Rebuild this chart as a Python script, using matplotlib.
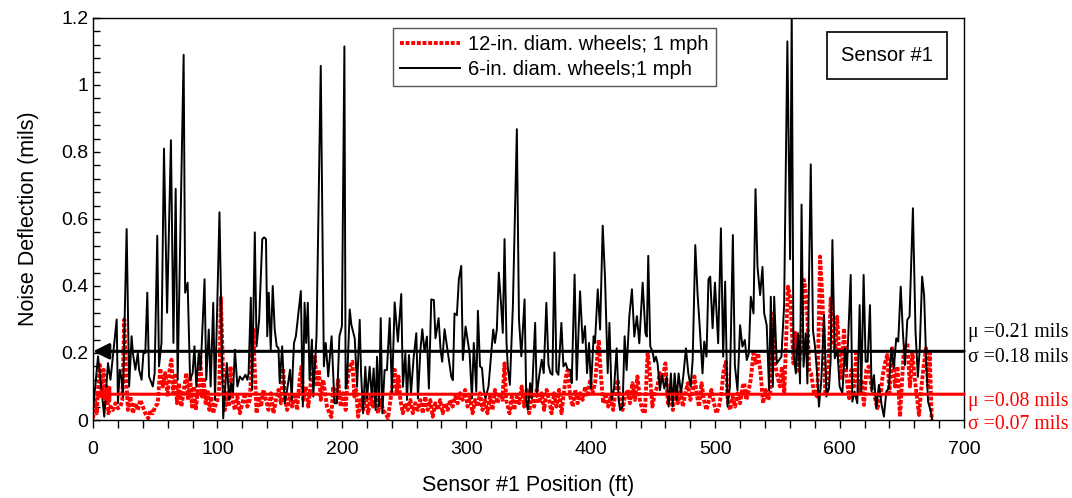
import numpy as np
import matplotlib
matplotlib.use("Agg")
import matplotlib.pyplot as plt
from matplotlib.ticker import MultipleLocator, FuncFormatter

plt.rcParams['font.family'] = ['Liberation Sans', 'DejaVu Sans']

# 6-in. wheels (black), position ft / noise mils
black_x = [0, 4, 9, 12, 14, 19, 20, 21.5, 23, 24, 27, 29, 31, 32, 34, 36, 37, 39, 40.5, 42,
           43.6, 45, 48, 49.5, 51.6, 53, 55, 57, 59.5, 62.6, 64.6, 66.4, 68, 72.8, 74, 76, 78, 80,
           81.5, 83, 85, 86.5, 89.6, 91, 93, 94.5, 96.6, 98, 101.6, 104.6, 107.5, 109.4, 111, 112.5,
           114, 116, 118, 120, 122.5, 124, 125, 126.8, 127.8, 130, 131.4, 133.5, 136, 137.5, 139,
           140, 141.2, 142.8, 144.4, 146, 147.6, 149, 150, 152, 154, 156, 158.3, 159.7, 160.5, 161.5,
           163, 167, 168.6, 170, 171.3, 172.6, 174, 175.9, 177, 179.6, 183, 185.5, 187, 189, 191.7,
           194, 196, 198, 200, 202, 203, 204.1, 206.3, 207.6, 210.3, 212.2, 214.3, 215.4, 217, 218.8,
           220.2, 222.3, 224, 225.5, 227.1, 228.2, 229.8, 231.2, 232.5, 234.3, 236.2, 238.4, 240.2,
           242.4, 245, 247.7, 249, 251, 252.3, 253.9, 255.5, 257.7, 259.8, 261.1, 263, 264.6, 266.4,
           268.3, 269.9, 271.8, 273.9, 275.2, 277.7, 279.3, 280.6, 282.5, 285.2, 287.9, 289.2, 290.5,
           292.4, 294, 295.9, 297.2, 299.4, 302.6, 304.5, 306, 308, 309.3, 311, 312.6, 314, 315.4,
           317.8, 320, 321.6, 323, 324.5, 326.1, 328, 329.3, 330.7, 332.3, 333.4, 335, 337.4, 340.6,
           342.3, 344.2, 346.8, 348.2, 349.5, 351.3, 352.6, 355.3, 356.6, 358.7, 360.6, 362.2, 364.3,
           366, 367.6, 369.2, 370.8, 372.4, 374, 376.4, 378, 379.8, 381.5, 383.6, 384.7, 387, 388.7,
           391.4, 393.5, 395.4, 397, 398.6, 400.2, 402.3, 403.4, 405.6, 407.5, 409.6, 411.5, 413.6,
           415, 416.8, 418.7, 420.8, 422.4, 423.5, 425.6, 427.2, 428.8, 431, 433.1, 435, 437.1, 439,
           441.7, 443.9, 445, 446.2, 447.8, 449.7, 451, 452.4, 453.7, 455.6, 457.2, 459.1, 461, 462.6,
           464.4, 465.8, 467.4, 469, 470.6, 472.5, 474.3, 476.5, 478.4, 480.3, 481.9, 484, 485.8,
           487.7, 489.8, 491.2, 493, 494.6, 496, 497.9, 499.8, 502.4, 504.6, 506.4, 508, 509.9, 511.8,
           514.2, 515.8, 517.9, 520, 521.9, 523.8, 525.4, 527, 528.6, 530.8, 532.4, 534, 536.1, 538,
           539.4, 541.4, 543.3, 544.7, 546.3, 547.4, 549.5, 551.4, 553.2, 555.4, 558, 560.2, 561.5,
           562.9, 564.8, 566.6, 568.2, 569.4, 571, 572.8, 574.1, 576.8, 578.6, 580.2, 582.1, 583.4,
           585.3, 587.5, 589.4, 591.5, 592.8, 594.2, 596.1, 598.2, 600, 602.2, 604.3, 605.9, 608.9,
           610.2, 612, 614.2, 616.1, 617.4, 619.3, 620.9, 622.5, 624.4, 625.7, 627.6, 629.4, 631.6,
           633.8, 635.6, 637.5, 639.6, 641.5, 643.6, 645.5, 647.1, 649.1, 650.9, 652.5, 654.4, 656.2,
           658.9, 661, 662.9, 664.4, 666.3, 667.9, 669.5, 671.1, 673.3, 674.4]
black_y = [0.03, 0.19, 0.01, 0.17, 0.12, 0.30, 0.05, 0.15, 0.12, 0.07, 0.57, 0.10, 0.25, 0.20, 0.15,
           0.20, 0.15, 0.12, 0.20, 0.20, 0.38, 0.13, 0.10, 0.14, 0.55, 0.16, 0.23, 0.81, 0.32, 0.835,
           0.23, 0.69, 0.12, 1.09, 0.38, 0.41, 0.12, 0.14, 0.22, 0.10, 0.20, 0.15, 0.42, 0.12, 0.27,
           0.10, 0.35, 0.06, 0.62, 0.005, 0.17, 0.06, 0.11, 0.08, 0.21, 0.10, 0.13, 0.12, 0.135, 0.12,
           0.14, 0.365, 0.09, 0.56, 0.22, 0.30, 0.54, 0.545, 0.54, 0.25, 0.38, 0.21, 0.40, 0.27, 0.22,
           0.215, 0.11, 0.22, 0.05, 0.09, 0.15, 0.06, 0.15, 0.23, 0.25, 0.385, 0.04, 0.35, 0.23, 0.35,
           0.12, 0.24, 0.07, 0.25, 1.057, 0.16, 0.23, 0.13, 0.25, 0.05, 0.05, 0.25, 0.28, 1.115, 0.094,
           0.109, 0.330, 0.284, 0.244, 0.099, 0.299, 0.139, 0.020, 0.159, 0.064, 0.159, 0.069, 0.154,
           0.030, 0.189, 0.040, 0.304, 0.020, 0.149, 0.149, 0.304, 0.079, 0.351, 0.234, 0.376, 0.099,
           0.199, 0.060, 0.194, 0.079, 0.189, 0.259, 0.064, 0.204, 0.271, 0.204, 0.249, 0.094, 0.360,
           0.358, 0.244, 0.304, 0.209, 0.174, 0.271, 0.199, 0.129, 0.119, 0.318, 0.313, 0.420, 0.460,
           0.179, 0.279, 0.20, 0.065, 0.23, 0.085, 0.326, 0.16, 0.155, 0.09, 0.065, 0.10, 0.20, 0.27,
           0.23, 0.27, 0.44, 0.34, 0.26, 0.54, 0.23, 0.154, 0.105, 0.34, 0.868, 0.30, 0.19, 0.36, 0.055,
           0.03, 0.11, 0.065, 0.29, 0.075, 0.135, 0.18, 0.14, 0.35, 0.165, 0.14, 0.135, 0.50, 0.145,
           0.135, 0.29, 0.16, 0.17, 0.15, 0.15, 0.11, 0.434, 0.12, 0.384, 0.23, 0.28, 0.14, 0.23, 0.095,
           0.25, 0.23, 0.39, 0.27, 0.58, 0.42, 0.14, 0.29, 0.06, 0.094, 0.214, 0.06, 0.03, 0.04, 0.25,
           0.149, 0.31, 0.39, 0.249, 0.31, 0.229, 0.41, 0.26, 0.249, 0.49, 0.22, 0.204, 0.174, 0.189,
           0.169, 0.089, 0.134, 0.094, 0.129, 0.04, 0.139, 0.04, 0.139, 0.06, 0.139, 0.079, 0.129,
           0.214, 0.139, 0.10, 0.179, 0.522, 0.378, 0.27, 0.139, 0.234, 0.189, 0.42, 0.428, 0.274,
           0.41, 0.229, 0.572, 0.189, 0.413, 0.040, 0.099, 0.552, 0.164, 0.089, 0.283, 0.219, 0.239,
           0.179, 0.199, 0.368, 0.318, 0.689, 0.457, 0.373, 0.457, 0.318, 0.283, 0.089, 0.368, 0.099,
           0.368, 0.169, 0.179, 0.189, 0.343, 1.13, 0.48, 1.22, 0.20, 0.139, 0.259, 0.109, 0.643,
           0.159, 0.259, 0.109, 0.763, 0.268, 0.219, 0.129, 0.040, 0.119, 0.313, 0.070, 0.099, 0.179,
           0.537, 0.184, 0.209, 0.10, 0.080, 0.214, 0.154, 0.433, 0.055, 0.085, 0.050, 0.343, 0.085,
           0.433, 0.174, 0.174, 0.343, 0.085, 0.134, 0.035, 0.105, 0.045, 0.010, 0.085, 0.095, 0.214,
           0.155, 0.244, 0.234, 0.398, 0.259, 0.164, 0.299, 0.309, 0.632, 0.264, 0.129, 0.214, 0.428,
           0.373, 0.184, 0.055, 0.025, 0.0]

# 12-in. wheels (red)
red_x = [0, 1.5, 3, 4.5, 5.6, 7, 8.5, 10, 11, 12.3, 14, 16, 18, 20, 22, 23.5, 25.1, 26.5, 28, 30,
         32, 34, 36, 38, 40, 42, 44.4, 46, 48, 50, 52, 54, 56, 58, 60, 61.5, 63, 64.5, 66, 67.5, 69,
         71, 73, 75, 76.5, 78, 79.5, 81, 82.5, 84, 86, 87.5, 89, 90.5, 92, 93.5, 95, 96.5, 98, 100,
         101.5, 102.7, 104.5, 106, 107.5, 109, 110.5, 112, 114, 116, 118, 120, 122, 124, 126, 128.7,
         130, 131.4, 133, 135, 137, 139, 141, 143, 145, 147, 149, 151, 152.8, 154.5, 156, 158, 160,
         162, 164, 166, 167.5, 169, 171, 173, 175, 176.5, 178.2, 180, 181.5, 183, 185, 186.5, 188,
         190, 191.5, 193, 195, 197, 199, 201, 203, 204.5, 206.3, 208.4, 210, 211.5, 213, 215, 217,
         219, 221, 223, 225, 227, 229, 231, 233, 235, 237, 239, 240.5, 242.4, 244, 245.5, 247, 249,
         251, 253, 255, 257, 259, 261, 263, 265, 267, 269, 271, 273, 275, 277, 279, 281, 283, 285,
         287, 289, 291, 293, 295, 297, 299, 301, 303, 305, 307, 309, 311, 313, 315, 317, 319, 321,
         323, 325, 327, 329, 330.7, 332, 334.7, 336.5, 338.5, 340.5, 342.5, 344.5, 346.5, 348.5,
         350.5, 352.5, 354.5, 356.5, 358.5, 360.5, 362.5, 364.5, 366.5, 368.5, 370.5, 372.5, 374.5,
         376.5, 378, 380, 381.5, 383.5, 385.5, 387.5, 389.5, 391.5, 393.5, 395.5, 397.5, 399.5,
         401.5, 403.5, 405, 406.4, 408, 410, 412, 414, 416, 418, 420, 421.6, 423.5, 425.5, 427.5,
         429.5, 431.5, 433.5, 435.5, 437.5, 439.5, 441.5, 443.5, 445.7, 447.5, 449.5, 451.5, 453.5,
         455.5, 457.5, 460, 462, 464, 466, 468, 470, 472, 474, 476, 478, 480, 482, 483.3, 485, 487,
         489, 491, 493, 495, 497, 499, 501, 503, 505, 506.5, 508.6, 510, 512, 514, 516, 518, 520,
         522, 523.3, 525, 527, 528.5, 530.8, 532.5, 534.5, 536.5, 538.5, 540.5, 542.5, 544.2, 546.1,
         548, 550, 552, 553.7, 555.5, 558.5, 560.5, 562.9, 564.5, 566.5, 568.5, 571.4, 573.6, 575.5,
         577, 579.4, 582.1, 584.3, 586.2, 588.5, 590.5, 592.8, 594.7, 596.5, 598, 599.5, 601.5,
         603.5, 605.5, 607.6, 609.5, 611.5, 613.5, 615.5, 617.5, 619.6, 621.5, 623.5, 625.5, 627.5,
         630.3, 632.5, 634.5, 636.5, 638.3, 640, 642.2, 644.5, 646.5, 648.5, 651.7, 654.4, 656.5,
         658.5, 660.5, 663.8, 665.5, 667.5, 669.5, 671, 672.4, 674]
red_y = [0.005, 0.06, 0.02, 0.12, 0.164, 0.08, 0.15, 0.05, 0.10, 0.02, 0.04, 0.03, 0.05, 0.035,
         0.04, 0.06, 0.30, 0.14, 0.03, 0.07, 0.02, 0.05, 0.03, 0.06, 0.04, 0.02, 0.005, 0.03, 0.02,
         0.04, 0.05, 0.154, 0.10, 0.14, 0.07, 0.15, 0.18, 0.08, 0.14, 0.05, 0.11, 0.04, 0.09, 0.14,
         0.06, 0.13, 0.04, 0.10, 0.03, 0.08, 0.204, 0.07, 0.12, 0.05, 0.09, 0.03, 0.07, 0.02, 0.04,
         0.06, 0.10, 0.365, 0.14, 0.03, 0.08, 0.04, 0.16, 0.06, 0.03, 0.07, 0.02, 0.05, 0.08, 0.04,
         0.06, 0.27, 0.15, 0.02, 0.07, 0.04, 0.09, 0.06, 0.03, 0.08, 0.02, 0.06, 0.09, 0.05, 0.154,
         0.06, 0.03, 0.07, 0.04, 0.08, 0.03, 0.12, 0.159, 0.06, 0.10, 0.04, 0.11, 0.14, 0.189, 0.10,
         0.15, 0.06, 0.12, 0.08, 0.04, 0.02, 0.009, 0.10, 0.05, 0.12, 0.04, 0.08, 0.03, 0.12, 0.159,
         0.174, 0.07, 0.09, 0.01, 0.06, 0.03, 0.08, 0.02, 0.07, 0.04, 0.09, 0.02, 0.06, 0.03, 0.02,
         0.005, 0.06, 0.10, 0.15, 0.08, 0.13, 0.06, 0.02, 0.05, 0.03, 0.06, 0.02, 0.05, 0.03, 0.06,
         0.02, 0.07, 0.03, 0.06, 0.01, 0.05, 0.03, 0.06, 0.02, 0.05, 0.03, 0.06, 0.04, 0.07, 0.05,
         0.08, 0.06, 0.09, 0.04, 0.07, 0.02, 0.06, 0.04, 0.08, 0.03, 0.06, 0.02, 0.07, 0.03, 0.09,
         0.05, 0.08, 0.06, 0.169, 0.06, 0.02, 0.07, 0.03, 0.07, 0.05, 0.10, 0.04, 0.09, 0.02, 0.08,
         0.04, 0.09, 0.05, 0.08, 0.03, 0.09, 0.06, 0.02, 0.08, 0.04, 0.09, 0.02, 0.07, 0.13, 0.149,
         0.07, 0.04, 0.09, 0.05, 0.08, 0.06, 0.10, 0.07, 0.12, 0.08, 0.11, 0.18, 0.239, 0.14, 0.05,
         0.08, 0.04, 0.07, 0.03, 0.09, 0.12, 0.06, 0.03, 0.07, 0.09, 0.05, 0.11, 0.06, 0.13, 0.06,
         0.03, 0.02, 0.199, 0.14, 0.04, 0.08, 0.10, 0.14, 0.12, 0.169, 0.05, 0.08, 0.03, 0.10, 0.05,
         0.09, 0.04, 0.08, 0.11, 0.06, 0.09, 0.13, 0.08, 0.04, 0.11, 0.06, 0.03, 0.06, 0.09, 0.05,
         0.02, 0.04, 0.08, 0.14, 0.174, 0.06, 0.03, 0.07, 0.04, 0.08, 0.05, 0.10, 0.11, 0.06, 0.09,
         0.12, 0.199, 0.17, 0.199, 0.14, 0.05, 0.09, 0.06, 0.08, 0.318, 0.17, 0.13, 0.10, 0.159,
         0.08, 0.398, 0.36, 0.169, 0.26, 0.14, 0.199, 0.418, 0.358, 0.15, 0.14, 0.08, 0.07, 0.488,
         0.36, 0.08, 0.09, 0.363, 0.239, 0.21, 0.308, 0.214, 0.12, 0.274, 0.13, 0.065, 0.15, 0.10,
         0.20, 0.08, 0.12, 0.045, 0.15, 0.16, 0.10, 0.08, 0.035, 0.06, 0.13, 0.17, 0.194, 0.08,
         0.214, 0.10, 0.16, 0.01, 0.214, 0.229, 0.10, 0.20, 0.12, 0.015, 0.09, 0.16, 0.214, 0.10,
         0.20, 0.0]

# mean lines (levels as drawn) and the stats text
mean_black = 0.205
mean_red = 0.077
stats_black = ["\u03bc =0.21 mils", "\u03c3 =0.18 mils"]
stats_red = ["\u03bc =0.08 mils", "\u03c3 =0.07 mils"]

fig = plt.figure(figsize=(10.72, 4.98), dpi=100)
ax = fig.add_axes([0.0868, 0.1566, 0.8125, 0.8074])

ax.plot(red_x, red_y, color='red', lw=2.8, linestyle=(0, (1.0, 0.45)),
        label='12-in. diam. wheels; 1 mph', zorder=2)
ax.plot(black_x, black_y, color='black', lw=1.4,
        label='6-in. diam. wheels;1 mph', zorder=3)

# mean lines with arrow heads at x=0
for lvl, col in [(mean_black, 'black'), (mean_red, 'red')]:
    ax.annotate('', xy=(0, lvl), xytext=(700, lvl),
                arrowprops=dict(arrowstyle='-|>', color=col, lw=2.2,
                                mutation_scale=24, shrinkA=0, shrinkB=0),
                zorder=5, annotation_clip=False)

ax.set_xlim(0, 700)
ax.set_ylim(0, 1.2)
ax.xaxis.set_major_locator(MultipleLocator(100))
ax.xaxis.set_minor_locator(MultipleLocator(20))
ax.yaxis.set_major_locator(MultipleLocator(0.2))
ax.yaxis.set_minor_locator(MultipleLocator(0.04))
ax.yaxis.set_major_formatter(FuncFormatter(lambda v, p: ('%g' % round(v, 2))))
ax.tick_params(axis='x', which='both', direction='out', labelsize=14, length=6, width=1, pad=9)
ax.tick_params(axis='y', which='both', direction='in', labelsize=14, length=5, width=1)
for s in ax.spines.values():
    s.set_linewidth(1.0)

ax.set_xlabel('Sensor #1 Position (ft)', fontsize=15.5, labelpad=12)
ax.set_ylabel('Noise Deflection (mils)', fontsize=15.5, labelpad=16)

leg = ax.legend(loc='upper left', bbox_to_anchor=(0.344, 0.975), borderaxespad=0,
                fontsize=14.5, fancybox=False, framealpha=1, edgecolor='#555555',
                handlelength=3.0, borderpad=0.35, labelspacing=0.3, handletextpad=0.4)
leg.get_frame().set_linewidth(1.0)

ax.text(0.912, 0.906, 'Sensor #1', transform=ax.transAxes, ha='center', va='center',
        fontsize=14.5, bbox=dict(boxstyle='square,pad=0.7', fc='white', ec='black', lw=1.2))

serif = ['Liberation Serif', 'DejaVu Serif']
tr = ax.get_yaxis_transform()
ax.text(1.004, mean_black + 0.057, stats_black[0], transform=tr,
        ha='left', va='center', fontsize=14.2, family=serif, clip_on=False)
ax.text(1.004, mean_black - 0.018, stats_black[1], transform=tr,
        ha='left', va='center', fontsize=14.2, family=serif, clip_on=False)
ax.text(1.004, mean_red - 0.022, stats_red[0], transform=tr,
        ha='left', va='center', fontsize=14.2, family=serif, color='red', clip_on=False)
ax.text(1.004, mean_red - 0.09, stats_red[1], transform=tr,
        ha='left', va='center', fontsize=14.2, family=serif, color='red', clip_on=False)

fig.savefig('out.png', dpi=100)
